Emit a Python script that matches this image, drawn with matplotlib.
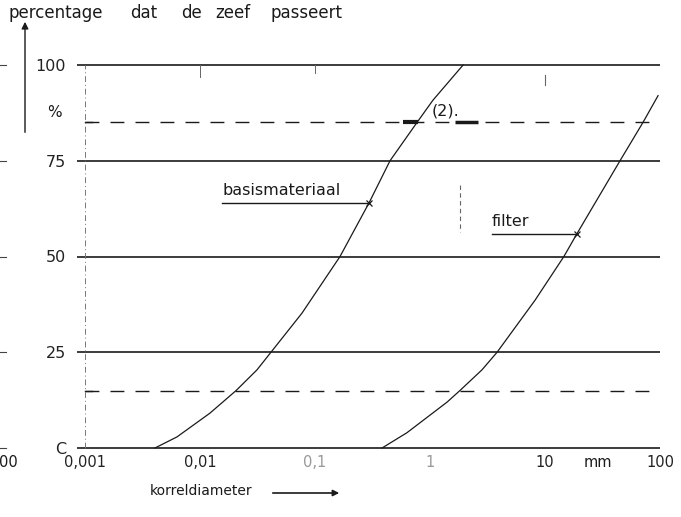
import numpy as np
import matplotlib
matplotlib.use("Agg")
import matplotlib.pyplot as plt
from matplotlib.patches import FancyArrowPatch

# ---- data ----
basis_d = [0.00406, 0.00631, 0.0122, 0.0206, 0.0313, 0.0414, 0.077, 0.165, 0.295, 0.449, 0.771, 1.06, 1.94]
basis_p = [0, 2.9, 9.1, 15, 20.4, 25, 35.2, 50, 64, 75, 85, 90.8, 100]
filter_d = [0.383, 0.631, 1.41, 1.82, 2.83, 3.83, 8.2, 14.6, 19.0, 44.9, 71.1, 96.2]
filter_p = [0, 4, 12, 15, 20.4, 25, 38.6, 50, 56, 75, 85, 92]
solid_levels = [0, 25, 50, 75, 100]
dashed_levels = [15, 85]
xticks = [0.001, 0.01, 0.1, 1, 10, 100]
xtick_labels = ["0,001", "0,01", "0,1", "1", "10", "100"]
ytick_labels = ["C", "25", "50", "75", "100"]
title_words = ["percentage", "dat", "de", "zeef", "passeert"]
title_word_px = [8, 130, 181, 215, 270]
basis_mark = (0.295, 64)
filter_mark = (19.0, 56)

plt.rcParams['font.family'] = ['DejaVu Sans']
W, H = 681, 517
fig = plt.figure(figsize=(W / 100, H / 100), dpi=100)

def px2x(px):
    return 10 ** (-3 + (px - 85) / 115.0)

ax_left, ax_right = 77, 660
y0, y100 = 448, 65
ax = fig.add_axes([ax_left / W, (H - y0) / H, (ax_right - ax_left) / W, (y0 - y100) / H])
ax.set_xscale('log')
ax.set_xlim(px2x(ax_left), px2x(ax_right))
ax.set_ylim(0, 100)
for s in ax.spines.values():
    s.set_visible(False)
ax.minorticks_off()
ax.set_xticks(xticks)
ax.set_xticklabels(xtick_labels)
ax.set_yticks(solid_levels)
ax.set_yticklabels(ytick_labels)
ax.tick_params(axis='both', length=0, colors='#222222')
ax.tick_params(axis='x', pad=5, labelsize=10.5)
ax.tick_params(axis='y', pad=8, labelsize=11.5)
for lab in ax.get_xticklabels():
    if lab.get_text() in ("1", "0,1"):
        lab.set_color('#999999')

xl = ax.get_xlim()
ink = '#1a1a1a'
for lv in solid_levels:
    ax.plot(xl, [lv, lv], color=ink, lw=1.2, solid_capstyle='butt', clip_on=False)
for lv in dashed_levels:
    ax.plot([0.001, xl[1]], [lv, lv], color=ink, lw=1.0, dashes=(10, 8), clip_on=False)
    ax.plot([0.001, px2x(92)], [lv, lv], color=ink, lw=1.0, clip_on=False)

# left vertical dash-dot
ax.plot([0.001, 0.001], [0, 100], color='#777777', lw=0.7, dashes=(6, 3, 1, 3), clip_on=False)

# curves
ax.plot(basis_d, basis_p, color=ink, lw=0.9, clip_on=False)
ax.plot(filter_d, filter_p, color=ink, lw=0.9, clip_on=False)

# thick arrow segments on 85% line
ax.plot([px2x(403), px2x(418)], [85, 85], color=ink, lw=3, solid_capstyle='butt')
ax.plot([px2x(455), px2x(478)], [85, 85], color=ink, lw=2.5, solid_capstyle='butt')
ax.text(px2x(432), 86.0, "(2).", fontsize=11.5, color=ink, ha='left', va='bottom')

# labels with underline to marker
ax.text(px2x(222), 65.3, "basismateriaal", fontsize=11.5, color=ink, ha='left', va='bottom')
ax.plot([px2x(222), basis_mark[0]], [basis_mark[1], basis_mark[1]], color=ink, lw=1.0)
ax.plot([basis_mark[0]], [basis_mark[1]], marker='x', ms=4, mew=0.9, color=ink)
ax.text(px2x(492), 57.3, "filter", fontsize=11.5, color=ink, ha='left', va='bottom')
ax.plot([px2x(492), filter_mark[0]], [filter_mark[1], filter_mark[1]], color=ink, lw=1.0)
ax.plot([filter_mark[0]], [filter_mark[1]], marker='x', ms=4, mew=0.9, color=ink)

# small top tick marks
ax.plot([0.01, 0.01], [100, 96.9], color='#666666', lw=0.7, clip_on=False)
ax.plot([0.1, 0.1], [100, 97.9], color='#666666', lw=0.7, clip_on=False)
ax.plot([10, 10], [97.4, 94.8], color='#666666', lw=0.8, clip_on=False)
ax.plot([px2x(460), px2x(460)], [68.7, 56.4], color='#666666', lw=0.8, dashes=(4, 3), clip_on=False)

# percent sign
ax.text(px2x(62), 87.7, "%", fontsize=11, color=ink, ha='right', va='center', clip_on=False)

# far-left tick stubs
for lv in solid_levels:
    ax.plot([px2x(0), px2x(6)], [lv, lv], color='#444444', lw=0.8, clip_on=False)

# cut-off left x label and unit
ax.text(px2x(18), -1.8, "00", fontsize=10.5, color=ink, ha='right', va='top', clip_on=False)
ax.text(px2x(598), -1.8, "mm", fontsize=10.5, color=ink, ha='center', va='top', clip_on=False)

# vertical arrow for y axis
ax.annotate("", xy=(px2x(25), 112), xytext=(px2x(25), 81.7),
            arrowprops=dict(arrowstyle='-|>', color=ink, lw=1.0, mutation_scale=10),
            annotation_clip=False)

# titles
for w, xp in zip(title_words, title_word_px):
    fig.text(xp / W, 1 - 13 / H, w, fontsize=12, color=ink, ha='left', va='center')
fig.text(150 / W, 1 - 491 / H, "korreldiameter", fontsize=10, color=ink, ha='left', va='center')
fig.add_artist(FancyArrowPatch((270 / W, 1 - 493 / H), (342 / W, 1 - 493 / H),
               transform=fig.transFigure, arrowstyle='-|>', mutation_scale=9, color=ink, lw=1.2))

fig.savefig("out.png", dpi=100)
